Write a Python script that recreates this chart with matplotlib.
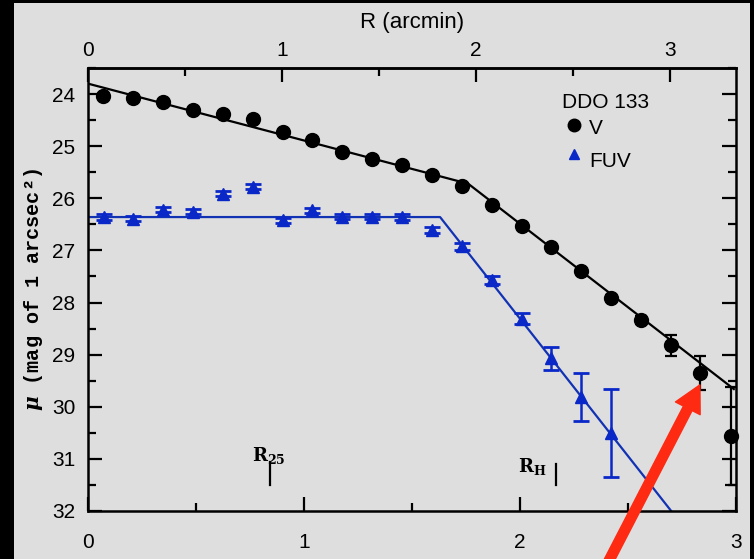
#!/usr/bin/env python3
"""Surface brightness profiles of DDO 133 (V and FUV)."""

import matplotlib
matplotlib.use("Agg")
import matplotlib.pyplot as plt
from matplotlib.patches import Rectangle
from matplotlib.ticker import FixedLocator, MultipleLocator

# radius in kpc (bottom axis)
v_r = [0.069, 0.210, 0.349, 0.485, 0.624, 0.762, 0.901, 1.038, 1.177, 1.316,
       1.452, 1.591, 1.730, 1.869, 2.008, 2.144, 2.282, 2.421, 2.560, 2.699,
       2.833, 2.975]
v_mu = [24.03, 24.07, 24.16, 24.30, 24.38, 24.48, 24.73, 24.88, 25.11, 25.25,
        25.37, 25.56, 25.77, 26.12, 26.53, 26.93, 27.40, 27.91, 28.33, 28.82,
        29.35, 30.57]
v_err = [0.02, 0.02, 0.02, 0.02, 0.02, 0.02, 0.02, 0.02, 0.02, 0.02,
         0.02, 0.02, 0.02, 0.02, 0.03, 0.04, 0.05, 0.06, 0.08, 0.20,
         0.33, 0.94]

fuv_r = [0.074, 0.210, 0.349, 0.485, 0.624, 0.762, 0.901, 1.038, 1.177, 1.316,
         1.452, 1.591, 1.730, 1.869, 2.008, 2.144, 2.281, 2.419]
fuv_mu = [26.36, 26.39, 26.22, 26.26, 25.91, 25.78, 26.42, 26.23, 26.35, 26.35,
          26.36, 26.61, 26.92, 27.57, 28.31, 29.07, 29.82, 30.50]
fuv_err = [0.05, 0.05, 0.05, 0.05, 0.05, 0.05, 0.05, 0.05, 0.05, 0.05,
           0.05, 0.06, 0.07, 0.08, 0.10, 0.22, 0.46, 0.85]

# broken exponential fits
v_fit_r = [0.0, 1.76, 2.99]
v_fit_mu = [23.80, 25.72, 29.66]
fuv_fit_r = [0.0, 1.63, 2.70]
fuv_fit_mu = [26.36, 26.36, 32.0]

KPC_PER_ARCMIN = 0.898
arcmin_ticks = [0, 1, 2, 3]
arcmin_minor = [0.5, 1.5, 2.5]

r25_kpc = 0.843
rh_kpc = 2.165

BG = "#dedede"
BLUE = "#0a28c8"
LINE_BLUE = "#1232b4"

plt.rcParams["font.family"] = ["Liberation Sans", "DejaVu Sans"]
plt.rcParams["mathtext.fontset"] = "dejavuserif"

fig = plt.figure(figsize=(7.54, 5.59), dpi=100)
fig.patch.set_facecolor("black")
fig.add_artist(Rectangle((14 / 754, 0), 736 / 754, 556 / 559,
                         transform=fig.transFigure, facecolor=BG,
                         edgecolor="none", zorder=-10))

ax = fig.add_axes([88 / 754, 48 / 559, 648 / 754, 443 / 559])
ax.set_facecolor(BG)

ax.plot(v_fit_r, v_fit_mu, color="black", lw=1.6, zorder=2)
ax.plot(fuv_fit_r, fuv_fit_mu, color=LINE_BLUE, lw=1.6, zorder=2)

ax.errorbar(v_r, v_mu, yerr=v_err, fmt="o", color="black", ms=10,
            elinewidth=1.6, capsize=4, capthick=1.6, zorder=3, clip_on=False)
ax.errorbar(fuv_r, fuv_mu, yerr=fuv_err, fmt="^", color=BLUE, ms=8,
            elinewidth=1.8, capsize=6, capthick=2, zorder=3, clip_on=False)

ax.set_xlim(0, 3)
ax.set_ylim(32, 23.5)

ax.xaxis.set_major_locator(MultipleLocator(1))
ax.xaxis.set_minor_locator(MultipleLocator(0.5))
ax.yaxis.set_major_locator(MultipleLocator(1))
ax.yaxis.set_minor_locator(MultipleLocator(0.5))
ax.tick_params(which="both", direction="in", width=1.6, right=True,
               labelsize=15, colors="black")
ax.tick_params(which="major", length=10)
ax.tick_params(which="minor", length=6)
ax.tick_params(axis="x", pad=16)
ax.tick_params(axis="y", pad=9)
for s in ax.spines.values():
    s.set_linewidth(1.8)

top = ax.secondary_xaxis(
    "top",
    functions=(lambda r: r / KPC_PER_ARCMIN, lambda a: a * KPC_PER_ARCMIN))
top.xaxis.set_major_locator(FixedLocator(arcmin_ticks))
top.xaxis.set_minor_locator(FixedLocator(arcmin_minor))
top.tick_params(which="both", direction="in", width=1.6, labelsize=15, pad=6)
top.tick_params(which="major", length=10)
top.tick_params(which="minor", length=6)
top.spines["top"].set_linewidth(1.8)
top.set_xlabel("R (arcmin)", fontsize=16, labelpad=9)

ax.set_ylabel(r"$\boldsymbol{\mu}$ (mag of 1 arcsec²)", fontsize=14.5,
              fontweight="bold", family=["Liberation Mono", "DejaVu Sans Mono"],
              labelpad=5)

# legend drawn by hand
ax.text(0.731, 0.921, "DDO 133", transform=ax.transAxes, fontsize=15,
        va="center", ha="left")
ax.plot([0.750], [0.871], "o", color="black", ms=9, transform=ax.transAxes)
ax.text(0.773, 0.864, "V", transform=ax.transAxes, fontsize=15,
        va="center", ha="left")
ax.plot([0.750], [0.806], "^", color=BLUE, ms=7, transform=ax.transAxes)
ax.text(0.773, 0.790, "FUV", transform=ax.transAxes, fontsize=15,
        va="center", ha="left")

# R25 and RH markers
ax.plot([r25_kpc, r25_kpc], [31.06, 31.5], color="black", lw=1.6)
ax.text(r25_kpc - 0.005, 30.93, r"R$_{\mathbf{25}}$", family="DejaVu Serif",
        fontweight="bold", fontsize=13, ha="center", va="center")
ax.plot([rh_kpc, rh_kpc], [31.1, 31.5], color="black", lw=1.6)
ax.text(rh_kpc - 0.11, 31.15, r"R$_{\mathbf{H}}$", family="DejaVu Serif",
        fontweight="bold", fontsize=13, ha="center", va="center")

# red arrow pointing at the outer V point
ax.annotate("", xy=(v_r[20], v_mu[20] + v_err[20] - 0.1),
            xytext=(599, -21), textcoords="figure pixels",
            annotation_clip=False, zorder=10,
            arrowprops=dict(width=7, headwidth=20, headlength=19,
                            color="#ff2a12", shrink=0))

fig.savefig("out.png", dpi=100, facecolor=fig.get_facecolor())
